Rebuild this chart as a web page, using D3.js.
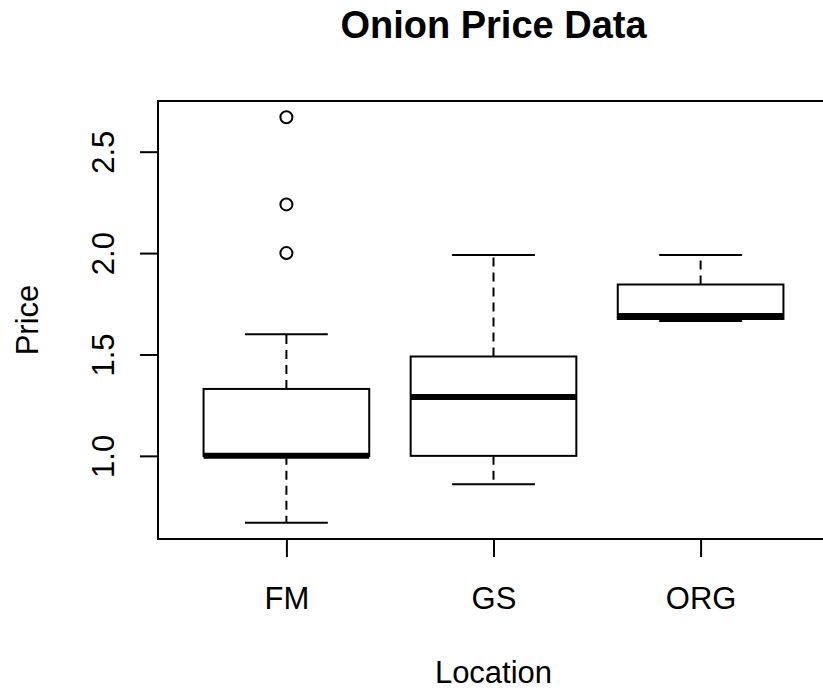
<!DOCTYPE html>
<html>
<head>
<meta charset="utf-8">
<script src="https://cdn.jsdelivr.net/npm/d3@7"></script>
<style>
  html, body { margin: 0; padding: 0; background: #fff; }
  svg { display: block; }
  text { font-family: "Liberation Sans", Arial, sans-serif; fill: #000; }
</style>
</head>
<body>
<svg id="chart" width="823" height="691"></svg>
<script>
// ---- data ----
const categories = ["FM", "GS", "ORG"];
const lowerWhisker = [0.67, 0.86, 1.665];
const q1 = [1.0, 1.0, 1.675];
const median = [1.0, 1.29, 1.69];
const q3 = [1.33, 1.49, 1.845];
const upperWhisker = [1.60, 1.99, 1.99];
const outliers = [[2.0, 2.24, 2.67], [], []];
const yTicks = [1.0, 1.5, 2.0, 2.5];
const title = "Onion Price Data";
const xLabel = "Location";
const yLabel = "Price";

// ---- layout ----
const plotLeft = 158, plotRight = 829, plotTop = 101, plotBottom = 539;
const svg = d3.select("#chart");

const allVals = lowerWhisker.concat(upperWhisker, ...outliers);
const lo = d3.min(allVals), hi = d3.max(allVals);
const pad = (hi - lo) * 0.04;
const y = d3.scaleLinear().domain([lo - pad, hi + pad]).range([plotBottom, plotTop]);
const x = d3.scaleLinear().domain([0.5 - 0.12, categories.length + 0.5 + 0.12]).range([plotLeft, plotRight]);

const boxHalf = 0.4, capHalf = 0.2;
const lw = 2;

const g = svg.append("g");

// boxes
categories.forEach((c, i) => {
  const cx = x(i + 1);
  const bx0 = x(i + 1 - boxHalf), bx1 = x(i + 1 + boxHalf);
  const cx0 = x(i + 1 - capHalf), cx1 = x(i + 1 + capHalf);
  // whiskers (dashed)
  g.append("line").attr("x1", cx).attr("x2", cx)
    .attr("y1", y(q3[i])).attr("y2", y(upperWhisker[i]))
    .attr("stroke", "#000").attr("stroke-width", lw).attr("stroke-dasharray", "9,6");
  g.append("line").attr("x1", cx).attr("x2", cx)
    .attr("y1", y(q1[i])).attr("y2", y(lowerWhisker[i]))
    .attr("stroke", "#000").attr("stroke-width", lw).attr("stroke-dasharray", "9,6");
  // caps
  g.append("line").attr("x1", cx0).attr("x2", cx1)
    .attr("y1", y(upperWhisker[i])).attr("y2", y(upperWhisker[i]))
    .attr("stroke", "#000").attr("stroke-width", lw);
  g.append("line").attr("x1", cx0).attr("x2", cx1)
    .attr("y1", y(lowerWhisker[i])).attr("y2", y(lowerWhisker[i]))
    .attr("stroke", "#000").attr("stroke-width", lw);
  // box
  g.append("rect").attr("x", bx0).attr("y", y(q3[i]))
    .attr("width", bx1 - bx0).attr("height", y(q1[i]) - y(q3[i]))
    .attr("fill", "#fff").attr("stroke", "#000").attr("stroke-width", lw);
  // median
  g.append("line").attr("x1", bx0).attr("x2", bx1)
    .attr("y1", y(median[i])).attr("y2", y(median[i]))
    .attr("stroke", "#000").attr("stroke-width", 6);
  // outliers
  outliers[i].forEach(v => {
    g.append("circle").attr("cx", cx).attr("cy", y(v)).attr("r", 6)
      .attr("fill", "none").attr("stroke", "#000").attr("stroke-width", lw);
  });
});

// plot frame
svg.append("rect").attr("x", plotLeft).attr("y", plotTop)
  .attr("width", plotRight - plotLeft).attr("height", plotBottom - plotTop)
  .attr("fill", "none").attr("stroke", "#000").attr("stroke-width", lw);

// y axis
const yAxis = svg.append("g").attr("transform", `translate(${plotLeft},0)`)
  .call(d3.axisLeft(y).tickValues(yTicks).tickSize(18).tickFormat(d3.format(".1f")));
yAxis.select(".domain").remove();
yAxis.selectAll(".tick line").attr("stroke", "#000").attr("stroke-width", lw);
yAxis.selectAll(".tick text")
  .attr("x", 0).attr("dy", 0)
  .attr("transform", "translate(-44,0) rotate(-90)")
  .attr("text-anchor", "middle")
  .style("font-family", '"Liberation Sans", Arial, sans-serif')
  .style("font-size", "31px").attr("fill", "#000");

// x axis
const xAxis = svg.append("g").attr("transform", `translate(0,${plotBottom})`)
  .call(d3.axisBottom(x).tickValues(categories.map((c, i) => i + 1))
    .tickSize(18).tickFormat(d => categories[d - 1]));
xAxis.select(".domain").remove();
xAxis.selectAll(".tick line").attr("stroke", "#000").attr("stroke-width", lw);
xAxis.selectAll(".tick text")
  .attr("y", 70).attr("dy", 0)
  .style("font-family", '"Liberation Sans", Arial, sans-serif')
  .style("font-size", "31px").attr("fill", "#000");

// titles
const midX = (plotLeft + plotRight) / 2;
svg.append("text").attr("x", midX).attr("y", 38)
  .attr("text-anchor", "middle").style("font-size", "38px").style("font-weight", "bold")
  .text(title);
svg.append("text").attr("x", midX).attr("y", 683)
  .attr("text-anchor", "middle").style("font-size", "31px").text(xLabel);
svg.append("text")
  .attr("transform", `translate(38,${(plotTop + plotBottom) / 2}) rotate(-90)`)
  .attr("text-anchor", "middle").style("font-size", "31px").text(yLabel);
</script>
</body>
</html>
